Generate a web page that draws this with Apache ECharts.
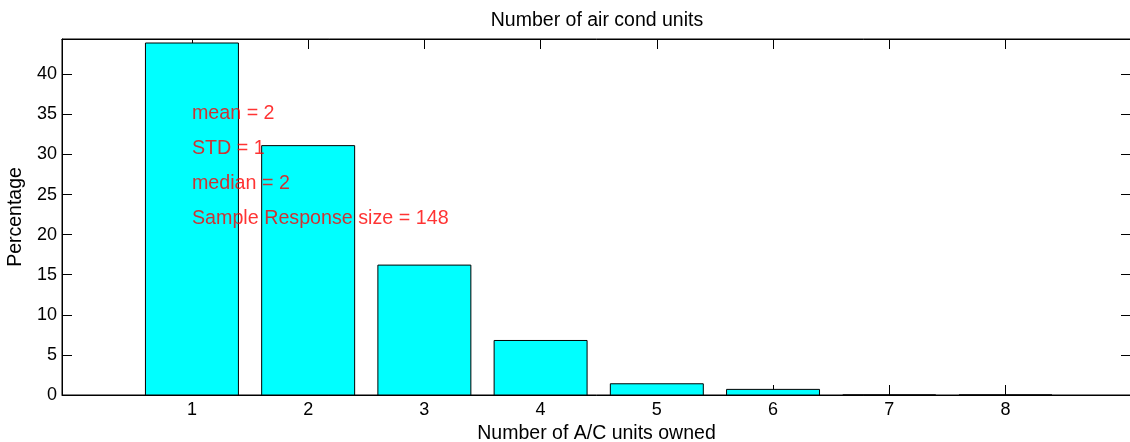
<!DOCTYPE html>
<html>
<head>
<meta charset="utf-8">
<script src="https://cdn.jsdelivr.net/npm/echarts@6/dist/echarts.min.js"></script>
<style>
  html, body { margin: 0; padding: 0; background: #fff; }
  #chart { width: 1130px; height: 442px; }
</style>
</head>
<body>
<div id="chart"></div>
<script>
// Units owned per household (x) and share of responses in percent (y)
const unitCounts = [1, 2, 3, 4, 5, 6, 7, 8];
const percentages = [43.9, 31.1, 16.2, 6.8, 1.4, 0.7, 0, 0];
const yTicks = [0, 5, 10, 15, 20, 25, 30, 35, 40];
const statLines = ['mean = 2', 'STD = 1', 'median = 2', 'Sample Response size = 148'];
const statLevels = [0.8, 0.7, 0.6, 0.5]; // fraction of the tallest bar

const FONT = '"Liberation Sans", Arial, Helvetica, sans-serif';
const X_MIN = -0.118, X_MAX = 9.08;
const Y_MIN = 0, Y_MAX = 44.4;
const BAR_HALF = 0.4;

const peak = Math.max.apply(null, percentages);
const statPoints = statLines.map((t, i) => [unitCounts[0], peak * statLevels[i], t]);

const chart = echarts.init(document.getElementById('chart'), null, { renderer: 'canvas' });

const tickStyle = { show: true, inside: true, length: 10, lineStyle: { color: '#000', width: 1 } };

chart.setOption({
  animation: false,
  backgroundColor: '#fff',
  title: {
    text: 'Number of air cond units',
    left: 592, top: 6, textAlign: 'center',
    textStyle: { fontFamily: FONT, fontSize: 19.5, fontWeight: 'normal', color: '#000' }
  },
  grid: {
    left: 62, top: 39, right: -1, bottom: 47,
    outerBoundsMode: 'none', containLabel: false,
    show: true, borderColor: '#000', borderWidth: 1, backgroundColor: '#fff'
  },
  xAxis: [{
    type: 'value', min: X_MIN, max: X_MAX, position: 'bottom',
    name: 'Number of A/C units owned', nameLocation: 'middle', nameGap: 26,
    nameTextStyle: { fontFamily: FONT, fontSize: 19.5, color: '#000' },
    axisLine: { show: true, onZero: false, lineStyle: { color: '#000', width: 1 } },
    axisTick: Object.assign({ customValues: unitCounts }, tickStyle),
    axisLabel: { customValues: unitCounts, fontFamily: FONT, fontSize: 18, color: '#000', margin: 6 },
    splitLine: { show: false }
  }, {
    type: 'value', min: X_MIN, max: X_MAX, position: 'top',
    axisLine: { show: true, onZero: false, lineStyle: { color: '#000', width: 1 } },
    axisTick: Object.assign({ customValues: unitCounts }, tickStyle),
    axisLabel: { show: false },
    splitLine: { show: false }
  }],
  yAxis: [{
    type: 'value', min: Y_MIN, max: Y_MAX, position: 'left',
    name: 'Percentage', nameLocation: 'middle', nameGap: 30,
    nameTextStyle: { fontFamily: FONT, fontSize: 19.5, color: '#000' },
    axisLine: { show: true, onZero: false, lineStyle: { color: '#000', width: 1 } },
    axisTick: Object.assign({ customValues: yTicks }, tickStyle),
    axisLabel: { customValues: yTicks, fontFamily: FONT, fontSize: 18, color: '#000', margin: 5 },
    splitLine: { show: false }
  }, {
    type: 'value', min: Y_MIN, max: Y_MAX, position: 'right',
    axisLine: { show: true, onZero: false, lineStyle: { color: '#000', width: 1 } },
    axisTick: Object.assign({ customValues: yTicks }, tickStyle),
    axisLabel: { show: false },
    splitLine: { show: false }
  }],
  series: [{
    type: 'custom',
    xAxisIndex: 0, yAxisIndex: 0,
    data: unitCounts.map((u, i) => [u, percentages[i]]),
    renderItem: function (params, api) {
      const x = api.value(0), y = api.value(1);
      const p0 = api.coord([x - BAR_HALF, y]);
      const p1 = api.coord([x + BAR_HALF, 0]);
      return {
        type: 'rect',
        shape: { x: p0[0], y: p0[1], width: p1[0] - p0[0], height: p1[1] - p0[1] },
        style: { fill: '#00FFFF', stroke: '#000', lineWidth: 1 }
      };
    },
    z: 2
  }, {
    type: 'scatter',
    xAxisIndex: 0, yAxisIndex: 0,
    symbolSize: 0,
    data: statPoints,
    label: {
      show: true, position: 'right', distance: 0,
      formatter: p => p.data[2],
      fontFamily: FONT, fontSize: 19.7, color: '#FF0000',
      align: 'left', verticalAlign: 'middle'
    },
    silent: true,
    z: 5
  }]
});
</script>
</body>
</html>
